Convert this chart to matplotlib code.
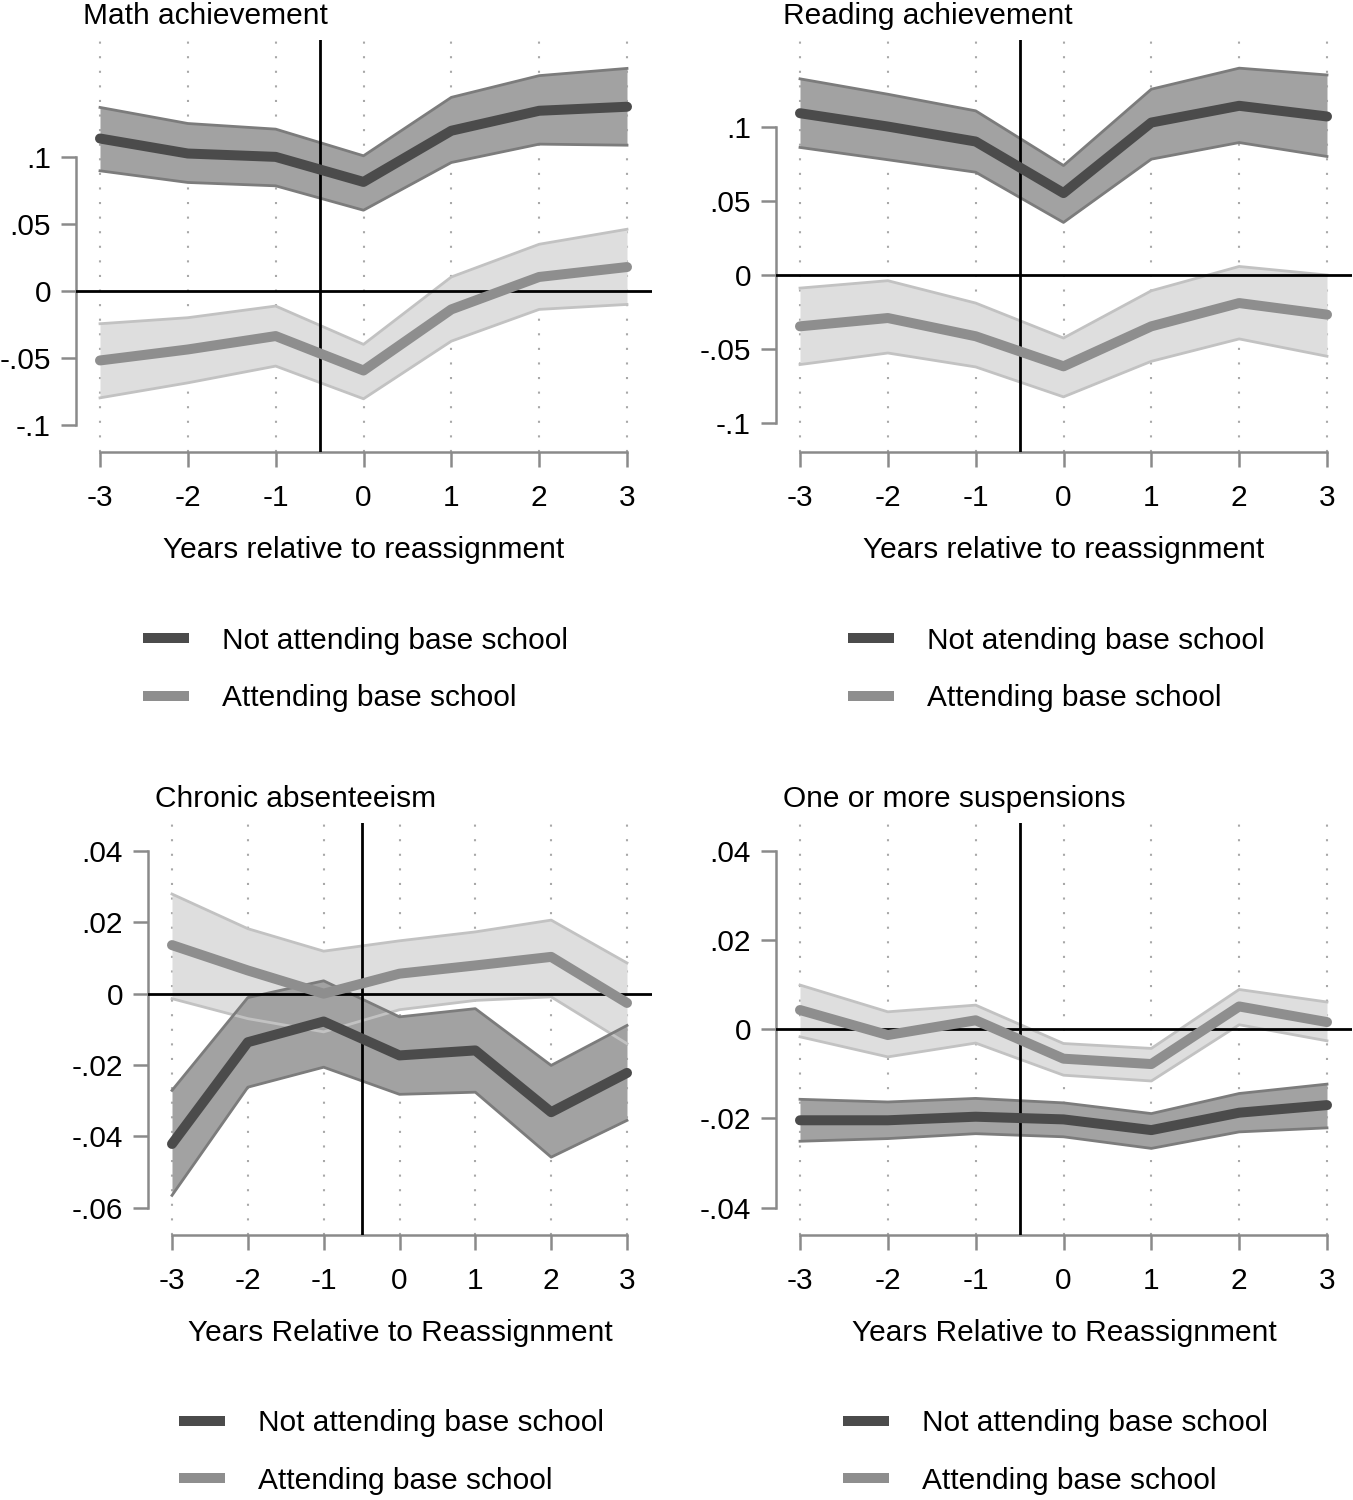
import matplotlib
matplotlib.use("Agg")
import matplotlib.pyplot as plt
from matplotlib.lines import Line2D
import numpy as np

plt.rcParams['font.family'] = ['Liberation Sans', 'DejaVu Sans']

W, H = 1353, 1500
FS = 21.5

years = [-3, -2, -1, 0, 1, 2, 3]
xtick_labels = ['-3', '-2', '-1', '0', '1', '2', '3']

# Math achievement
math_not = [0.1138, 0.1026, 0.1001, 0.0814, 0.1196, 0.1345, 0.1375]
math_not_hi = [0.1370, 0.1250, 0.1208, 0.1009, 0.1445, 0.1607, 0.1661]
math_not_lo = [0.0897, 0.0810, 0.0785, 0.0603, 0.0959, 0.1096, 0.1088]
math_att = [-0.0518, -0.0436, -0.0336, -0.0593, -0.0137, 0.0105, 0.0179]
math_att_hi = [-0.0244, -0.0199, -0.0112, -0.0398, 0.0105, 0.0349, 0.0461]
math_att_lo = [-0.0797, -0.0685, -0.0560, -0.0804, -0.0374, -0.0137, -0.0100]

# Reading achievement
read_not = [0.1092, 0.1002, 0.0901, 0.0553, 0.1029, 0.1142, 0.1070]
read_not_hi = [0.1324, 0.1220, 0.1108, 0.0739, 0.1254, 0.1396, 0.1350]
read_not_lo = [0.0861, 0.0778, 0.0694, 0.0355, 0.0782, 0.0894, 0.0800]
read_att = [-0.0346, -0.0290, -0.0413, -0.0616, -0.0346, -0.0189, -0.0267]
read_att_hi = [-0.0088, -0.0038, -0.0189, -0.0425, -0.0106, 0.0058, 0.0000]
read_att_lo = [-0.0604, -0.0526, -0.0620, -0.0822, -0.0582, -0.0431, -0.0548]

# Chronic absenteeism
abs_not = [-0.0421, -0.0136, -0.0078, -0.0173, -0.0159, -0.0332, -0.0222]
abs_not_hi = [-0.0271, -0.0011, 0.0036, -0.0065, -0.0042, -0.0201, -0.0089]
abs_not_lo = [-0.0565, -0.0262, -0.0206, -0.0282, -0.0276, -0.0458, -0.0355]
abs_att = [0.0136, 0.0065, 0.0000, 0.0056, 0.0079, 0.0103, -0.0026]
abs_att_hi = [0.0279, 0.0182, 0.0119, 0.0148, 0.0173, 0.0206, 0.0086]
abs_att_lo = [-0.0014, -0.0070, -0.0107, -0.0045, -0.0019, -0.0009, -0.0140]

# One or more suspensions
sus_not = [-0.0204, -0.0204, -0.0196, -0.0202, -0.0226, -0.0187, -0.0170]
sus_not_hi = [-0.0157, -0.0163, -0.0155, -0.0165, -0.0189, -0.0144, -0.0123]
sus_not_lo = [-0.0251, -0.0245, -0.0234, -0.0241, -0.0267, -0.0230, -0.0221]
sus_att = [0.0043, -0.0013, 0.0020, -0.0066, -0.0078, 0.0051, 0.0016]
sus_att_hi = [0.0099, 0.0039, 0.0054, -0.0032, -0.0043, 0.0089, 0.0061]
sus_att_lo = [-0.0017, -0.0062, -0.0031, -0.0103, -0.0116, 0.0010, -0.0026]

ach_yticks = [-0.1, -0.05, 0, 0.05, 0.1]
ach_ylabels = ['-.1', '-.05', '0', '.05', '.1']
abs_yticks = [-0.06, -0.04, -0.02, 0, 0.02, 0.04]
abs_ylabels = ['-.06', '-.04', '-.02', '0', '.02', '.04']
sus_yticks = [-0.04, -0.02, 0, 0.02, 0.04]
sus_ylabels = ['-.04', '-.02', '0', '.02', '.04']

DARK_LINE = '#4b4b4b'
DARK_FILL = '#a2a2a2'
DARK_EDGE = '#7c7c7c'
LIGHT_LINE = '#8e8e8e'
LIGHT_FILL = '#dedede'
LIGHT_EDGE = '#c2c2c2'
AX_GRAY = '#8a8a8a'

fig = plt.figure(figsize=(W / 100, H / 100), dpi=100)


def rect(left, top, right, bottom):
    return [left / W, 1 - bottom / H, (right - left) / W, (bottom - top) / H]


panels = [
    dict(r=(76, 40, 652, 452), xpx=(100, 627), ylim=(-0.1201, 0.1873),
         title='Math achievement', xlabel='Years relative to reassignment',
         yt=ach_yticks, yl=ach_ylabels,
         nd=(math_not, math_not_lo, math_not_hi), at=(math_att, math_att_lo, math_att_hi),
         leg=(143, 669.5), leg_labels=['Not attending base school', 'Attending base school']),
    dict(r=(776, 40, 1352, 452), xpx=(800, 1327), ylim=(-0.1194, 0.1586),
         title='Reading achievement', xlabel='Years relative to reassignment',
         yt=ach_yticks, yl=ach_ylabels,
         nd=(read_not, read_not_lo, read_not_hi), at=(read_att, read_att_lo, read_att_hi),
         leg=(848, 669.5), leg_labels=['Not atending base school', 'Attending base school']),
    dict(r=(148, 823, 652, 1235), xpx=(172, 627), ylim=(-0.0676, 0.0478),
         title='Chronic absenteeism', xlabel='Years Relative to Reassignment',
         yt=abs_yticks, yl=abs_ylabels,
         nd=(abs_not, abs_not_lo, abs_not_hi), at=(abs_att, abs_att_lo, abs_att_hi),
         leg=(179, 1452), leg_labels=['Not attending base school', 'Attending base school']),
    dict(r=(776, 823, 1352, 1235), xpx=(800, 1327), ylim=(-0.0461, 0.0462),
         title='One or more suspensions', xlabel='Years Relative to Reassignment',
         yt=sus_yticks, yl=sus_ylabels,
         nd=(sus_not, sus_not_lo, sus_not_hi), at=(sus_att, sus_att_lo, sus_att_hi),
         leg=(843, 1452), leg_labels=['Not attending base school', 'Attending base school']),
]

for p in panels:
    left, top, right, bottom = p['r']
    ax = fig.add_axes(rect(left, top, right, bottom))
    x3n, x3p = p['xpx']
    unit = (x3p - x3n) / 6.0
    ax.set_xlim(-3 - (x3n - left) / unit, 3 + (right - x3p) / unit)
    ax.set_ylim(*p['ylim'])

    # grid
    ax.set_xticks(years)
    ax.set_xticklabels(xtick_labels)
    ax.grid(axis='x', linestyle=(0, (1, 6)), color='#a8a8a8', linewidth=1.5)
    ax.set_axisbelow(True)

    # bands
    m, lo, hi = p['at']
    ax.fill_between(years, lo, hi, color=LIGHT_FILL, linewidth=0, zorder=2)
    m2, lo2, hi2 = p['nd']
    ax.fill_between(years, lo2, hi2, color=DARK_FILL, linewidth=0, zorder=3)
    for arr in (lo, hi):
        ax.plot(years, arr, color=LIGHT_EDGE, linewidth=2.0, zorder=4)
    for arr in (lo2, hi2):
        ax.plot(years, arr, color=DARK_EDGE, linewidth=2.0, zorder=4)

    ax.axhline(0, color='black', linewidth=2.0, zorder=5)
    ax.axvline(-0.5, color='black', linewidth=2.0, zorder=5)

    ax.plot(years, m2, color=DARK_LINE, linewidth=7.2, solid_capstyle='round',
            solid_joinstyle='round', zorder=6)
    ax.plot(years, m, color=LIGHT_LINE, linewidth=7.2, solid_capstyle='round',
            solid_joinstyle='round', zorder=6)

    # axes styling
    for s in ('top', 'right'):
        ax.spines[s].set_visible(False)
    ax.spines['left'].set_bounds(p['yt'][0], p['yt'][-1])
    ax.spines['bottom'].set_bounds(-3, 3)
    for s in ('left', 'bottom'):
        ax.spines[s].set_color(AX_GRAY)
        ax.spines[s].set_linewidth(1.8)
    ax.set_yticks(p['yt'])
    ax.set_yticklabels(p['yl'])
    ax.tick_params(axis='both', colors=AX_GRAY, labelcolor='black', labelsize=FS,
                   length=11, width=1.8, direction='out')
    ax.tick_params(axis='y', pad=7)
    ax.tick_params(axis='x', pad=12)
    ax.set_xlabel(p['xlabel'], fontsize=FS, labelpad=17)

    ax.annotate(p['title'], xy=(0, 1), xycoords='axes fraction', xytext=(7, 24),
                textcoords='offset pixels', ha='left', va='center', fontsize=FS)

    handles = [Line2D([], [], color=DARK_LINE, linewidth=7.2, solid_capstyle='butt'),
               Line2D([], [], color=LIGHT_LINE, linewidth=7.2, solid_capstyle='butt')]
    lx, ly = p['leg']
    fig.legend(handles, p['leg_labels'], loc='center left',
               bbox_to_anchor=(lx / W, 1 - ly / H), frameon=False, fontsize=FS,
               handlelength=1.55, handletextpad=1.1, labelspacing=0.99,
               borderpad=0, borderaxespad=0)

fig.savefig('out.png', dpi=100)
